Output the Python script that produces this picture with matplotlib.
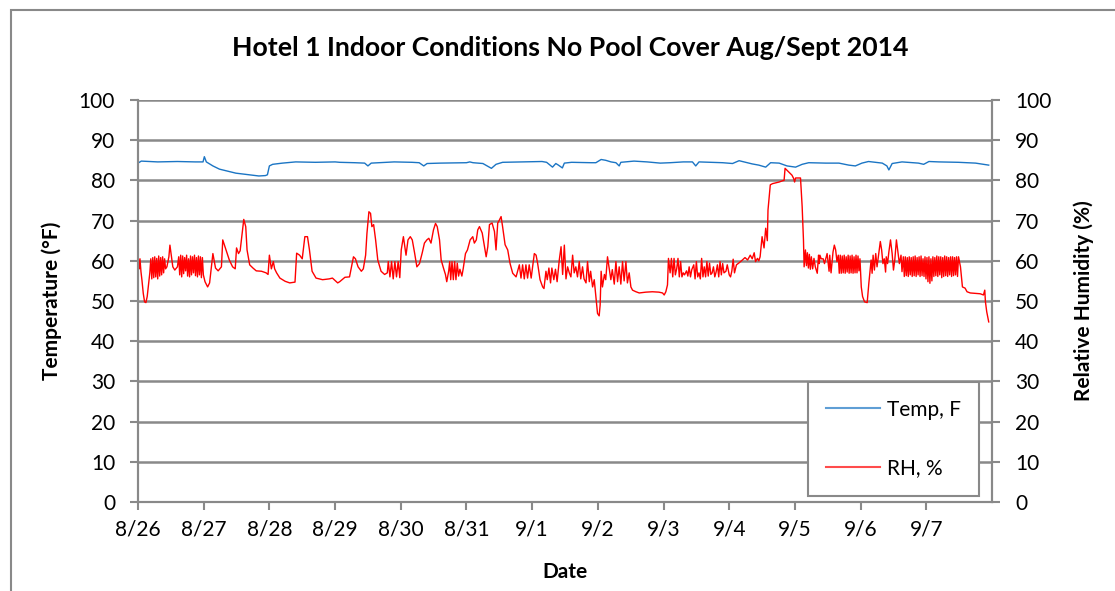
import matplotlib
matplotlib.use("Agg")
import matplotlib.pyplot as plt
from matplotlib.patches import Rectangle

plt.rcParams['font.family'] = ['Lato', 'DejaVu Sans']

# ---------------- data (days since 8/26 00:00, value) ----------------
date_labels = ["8/26", "8/27", "8/28", "8/29", "8/30", "8/31", "9/1",
               "9/2", "9/3", "9/4", "9/5", "9/6", "9/7"]
left_ticks = [0, 10, 20, 30, 40, 50, 60, 70, 80, 90, 100]
right_ticks = [0, 10, 20, 30, 40, 50, 60, 70, 80, 90, 100]

temp_readings = [
    (0.00, 84.3), (0.05, 84.8), (0.30, 84.6), (0.60, 84.7), (0.87, 84.6), (0.99, 84.6),
    (1.01, 85.9), (1.04, 84.6), (1.14, 83.6), (1.24, 82.8), (1.39, 82.2), (1.49, 81.8),
    (1.64, 81.5), (1.84, 81.1), (1.94, 81.2), (1.97, 81.4), (2.00, 83.6), (2.05, 84.0),
    (2.20, 84.3), (2.40, 84.6), (2.70, 84.5), (3.00, 84.6), (3.07, 84.5), (3.30, 84.4),
    (3.45, 84.3), (3.50, 83.6), (3.55, 84.3), (3.90, 84.6), (4.17, 84.5), (4.28, 84.4),
    (4.35, 83.6), (4.40, 84.2), (4.60, 84.3), (5.00, 84.4), (5.05, 84.6), (5.10, 84.4),
    (5.25, 84.2), (5.38, 83.0), (5.45, 84.0), (5.55, 84.5), (5.85, 84.6), (6.15, 84.7),
    (6.22, 84.5), (6.31, 83.3), (6.36, 84.2), (6.40, 83.8), (6.46, 83.1), (6.49, 84.3),
    (6.60, 84.5), (6.90, 84.4), (6.97, 84.4), (7.05, 85.2), (7.12, 85.0), (7.20, 84.6),
    (7.275, 84.4), (7.325, 83.6), (7.35, 84.5), (7.55, 84.8), (7.75, 84.6), (7.95, 84.3),
    (8.10, 84.4), (8.30, 84.6), (8.44, 84.6), (8.49, 83.6), (8.54, 84.6), (8.90, 84.4),
    (9.05, 84.2), (9.15, 84.9), (9.25, 84.5), (9.35, 84.1), (9.45, 83.8), (9.555, 83.3),
    (9.63, 84.4), (9.76, 84.3), (9.88, 83.6), (10.01, 83.3), (10.11, 84.0), (10.21, 84.4),
    (10.47, 84.3), (10.67, 84.3), (10.82, 83.8), (10.92, 83.6), (11.02, 84.3), (11.12, 84.7),
    (11.33, 84.3), (11.40, 83.6), (11.43, 82.6), (11.48, 84.2), (11.63, 84.6), (11.88, 84.3),
    (11.96, 84.0), (12.04, 84.7), (12.19, 84.6), (12.49, 84.5), (12.75, 84.3), (12.95, 83.8),
]

rh_readings = [
    # 8/26
    (0.00, 61.4), (0.02, 58.0), (0.03, 60.5), (0.045, 57.3), (0.06, 55.2), (0.08, 51.9),
    (0.10, 49.8), (0.12, 49.6), (0.14, 51.1), (0.18, 57.0),
    (0.195, 60.5), (0.21, 55.5), (0.225, 60.8), (0.24, 55.8), (0.255, 61.0), (0.27, 56.0),
    (0.285, 60.6), (0.30, 55.5), (0.315, 61.2), (0.33, 56.2), (0.345, 60.8), (0.36, 56.5),
    (0.375, 61.0), (0.39, 57.0), (0.405, 60.5), (0.42, 58.0), (0.44, 58.5), (0.47, 61.0),
    (0.486, 63.9), (0.51, 61.0), (0.53, 58.5), (0.56, 57.7), (0.60, 58.5),
    (0.62, 61.0), (0.635, 56.5), (0.65, 61.4), (0.665, 56.0), (0.68, 61.2), (0.695, 56.8),
    (0.71, 60.8), (0.725, 57.5), (0.74, 61.4), (0.755, 56.2), (0.77, 60.5), (0.785, 56.0),
    (0.80, 61.2), (0.815, 56.5), (0.83, 61.0), (0.845, 57.0), (0.86, 61.4), (0.875, 56.3),
    (0.89, 60.8), (0.905, 56.0), (0.92, 61.2), (0.935, 56.5), (0.95, 61.0), (0.965, 55.8),
    (0.98, 60.8), (0.995, 56.5),
    # 8/27
    (1.02, 54.8), (1.06, 53.5), (1.09, 54.5), (1.14, 61.8), (1.18, 58.2), (1.22, 57.5),
    (1.27, 58.5), (1.29, 65.2), (1.34, 62.7), (1.39, 60.2), (1.44, 58.5), (1.48, 58.0),
    (1.50, 63.2), (1.53, 61.8), (1.555, 62.5), (1.58, 66.0), (1.61, 70.3), (1.64, 68.5),
    (1.66, 62.7), (1.70, 59.0), (1.75, 58.2), (1.80, 57.5), (1.88, 57.4), (1.95, 57.0),
    (1.98, 56.6),
    # 8/28
    (2.00, 61.4), (2.03, 58.0), (2.06, 59.8), (2.08, 58.0), (2.11, 57.0), (2.16, 55.7),
    (2.24, 54.9), (2.31, 54.5), (2.39, 54.7), (2.415, 61.9), (2.46, 61.4), (2.50, 60.5),
    (2.54, 66.0), (2.58, 66.0), (2.61, 62.7), (2.65, 57.4), (2.71, 55.7), (2.81, 55.3),
    (2.91, 55.5), (2.96, 55.7),
    # 8/29
    (3.04, 54.5), (3.07, 54.8), (3.15, 55.9), (3.22, 56.0), (3.28, 61.0), (3.31, 60.5),
    (3.35, 58.5), (3.40, 57.4), (3.43, 58.0), (3.465, 61.4), (3.485, 66.8), (3.515, 72.2),
    (3.54, 71.8), (3.56, 68.5), (3.587, 69.0), (3.617, 65.2), (3.65, 60.2), (3.70, 57.4),
    (3.754, 56.6), (3.795, 57.0), (3.81, 59.8), (3.835, 56.0), (3.86, 59.8), (3.885, 55.5),
    (3.91, 59.8), (3.935, 56.0), (3.96, 59.8), (3.985, 55.8),
    # 8/30
    (4.007, 62.7), (4.04, 66.0), (4.08, 61.4), (4.11, 65.2), (4.145, 66.0), (4.175, 65.2),
    (4.21, 62.0), (4.245, 58.5), (4.285, 59.3), (4.327, 62.0), (4.36, 64.4), (4.397, 65.2),
    (4.427, 65.6), (4.46, 64.4), (4.498, 67.7), (4.529, 69.3), (4.555, 68.5), (4.59, 65.2),
    (4.615, 60.2), (4.65, 58.2), (4.68, 56.6), (4.70, 54.8), (4.73, 57.5), (4.745, 59.8),
    (4.76, 55.3), (4.78, 59.8), (4.80, 55.3), (4.82, 59.8), (4.84, 55.3), (4.86, 59.4),
    (4.88, 56.2), (4.90, 57.9), (4.93, 56.2), (4.95, 58.0),
    # 8/31
    (4.985, 61.8), (5.015, 62.7), (5.056, 65.2), (5.096, 66.0), (5.12, 64.4), (5.15, 65.2),
    (5.172, 67.7), (5.198, 68.5), (5.24, 66.9), (5.274, 63.5), (5.30, 61.0), (5.325, 63.5),
    (5.35, 69.0), (5.39, 69.4), (5.426, 67.3), (5.45, 62.7), (5.476, 69.4), (5.50, 70.1),
    (5.527, 71.0), (5.55, 68.5), (5.588, 64.0), (5.628, 62.7), (5.664, 59.3), (5.704, 56.9),
    (5.755, 56.0), (5.805, 59.0), (5.83, 55.7), (5.855, 59.0), (5.88, 55.5), (5.905, 59.0),
    (5.93, 55.7), (5.955, 59.0), (5.985, 55.7),
    # 9/1
    (6.033, 61.8), (6.06, 61.4), (6.084, 59.3), (6.12, 55.3), (6.16, 53.5), (6.18, 53.1),
    (6.21, 57.4), (6.23, 55.3), (6.255, 58.2), (6.28, 54.5), (6.30, 58.2), (6.33, 55.3),
    (6.355, 57.9), (6.38, 54.8), (6.413, 60.2), (6.44, 63.5), (6.464, 56.6), (6.49, 63.9),
    (6.515, 55.5), (6.54, 58.5), (6.565, 57.0), (6.59, 56.0), (6.616, 61.4), (6.64, 57.0),
    (6.665, 58.5), (6.69, 56.0), (6.717, 59.8), (6.74, 55.5), (6.767, 58.5), (6.79, 55.5),
    (6.82, 54.5), (6.843, 59.8), (6.87, 54.8), (6.89, 57.4), (6.92, 53.5), (6.945, 55.3),
    (6.97, 51.1), (6.995, 46.9),
    # 9/2
    (7.02, 46.3), (7.035, 49.0), (7.05, 57.4), (7.07, 53.5), (7.10, 56.6), (7.12, 55.3),
    (7.147, 61.0), (7.17, 58.5), (7.198, 55.3), (7.22, 57.8), (7.25, 54.2), (7.275, 59.8),
    (7.30, 54.8), (7.325, 58.5), (7.35, 54.2), (7.376, 59.8), (7.40, 55.0), (7.427, 59.8),
    (7.45, 54.5), (7.477, 57.0), (7.503, 53.5), (7.528, 52.7), (7.58, 52.3), (7.63, 52.0),
    (7.73, 52.2), (7.83, 52.3), (7.93, 52.2), (7.985, 52.0),
    # 9/3
    (8.01, 51.5), (8.035, 52.3), (8.06, 54.0), (8.075, 60.6), (8.10, 57.0), (8.12, 60.6),
    (8.14, 56.0), (8.16, 60.6), (8.18, 56.5), (8.20, 58.0), (8.22, 60.6), (8.24, 56.0),
    (8.26, 59.8), (8.28, 56.0), (8.30, 57.0), (8.32, 56.5), (8.35, 57.5), (8.37, 56.2),
    (8.39, 58.5), (8.41, 56.0), (8.43, 57.8), (8.46, 59.0), (8.48, 55.5), (8.50, 59.8),
    (8.52, 56.0), (8.54, 57.0), (8.56, 55.5), (8.58, 60.6), (8.60, 56.0), (8.62, 58.5),
    (8.64, 56.0), (8.66, 59.8), (8.68, 56.2), (8.70, 59.4), (8.72, 56.6), (8.74, 57.0),
    (8.76, 58.5), (8.78, 56.0), (8.80, 57.2), (8.82, 59.0), (8.84, 56.0), (8.86, 59.8),
    (8.88, 56.5), (8.90, 59.3), (8.92, 57.0), (8.95, 57.4), (8.97, 59.0),
    # 9/4
    (9.00, 56.5), (9.02, 56.0), (9.04, 57.5), (9.06, 60.4), (9.08, 57.0), (9.11, 59.0),
    (9.15, 59.5), (9.20, 60.2), (9.24, 60.8), (9.28, 60.2), (9.32, 61.4), (9.35, 60.5),
    (9.38, 62.0), (9.40, 59.8), (9.43, 60.6), (9.45, 60.0), (9.47, 61.0), (9.50, 66.0),
    (9.53, 63.2), (9.555, 68.1), (9.58, 65.0), (9.59, 72.6), (9.625, 78.9), (9.66, 79.2),
    (9.71, 79.4), (9.76, 79.6), (9.81, 79.9), (9.835, 80.0), (9.85, 83.0), (9.88, 82.5),
    (9.93, 81.7), (9.955, 81.3), (9.98, 80.5), (9.995, 79.6),
    # 9/5
    (10.01, 80.6), (10.05, 80.6), (10.085, 80.6), (10.11, 73.5), (10.13, 65.2), (10.14, 58.5),
    (10.16, 62.7), (10.175, 58.8), (10.19, 62.0), (10.205, 58.2), (10.22, 61.6), (10.235, 57.9),
    (10.25, 61.0), (10.27, 58.0), (10.29, 60.6), (10.31, 58.5), (10.34, 56.9), (10.36, 61.4),
    (10.37, 59.3), (10.38, 61.4), (10.40, 60.5), (10.43, 60.5), (10.45, 59.3), (10.49, 61.8),
    (10.52, 57.4), (10.53, 61.4), (10.55, 57.0), (10.58, 62.2), (10.60, 63.9), (10.62, 62.7),
    (10.64, 59.8), (10.66, 61.4), (10.675, 56.9), (10.69, 61.4), (10.705, 56.9), (10.72, 61.2),
    (10.735, 57.0), (10.75, 61.4), (10.765, 56.9), (10.78, 61.0), (10.795, 57.2), (10.81, 61.4),
    (10.825, 56.9), (10.84, 61.2), (10.855, 57.0), (10.87, 61.4), (10.885, 56.9), (10.90, 61.0),
    (10.915, 57.0), (10.93, 61.4), (10.945, 57.0), (10.96, 61.2), (10.975, 57.5), (10.99, 60.5),
    # 9/6
    (11.01, 53.5), (11.03, 51.1), (11.06, 49.8), (11.10, 49.6), (11.125, 54.4), (11.14, 56.9),
    (11.16, 60.2), (11.175, 56.9), (11.19, 61.4), (11.21, 57.7), (11.23, 61.8), (11.25, 58.5),
    (11.276, 61.8), (11.30, 64.8), (11.32, 62.7), (11.34, 59.3), (11.36, 60.5), (11.38, 57.2),
    (11.39, 61.0), (11.41, 59.3), (11.43, 62.2), (11.455, 65.2), (11.48, 61.8), (11.50, 57.7),
    (11.52, 60.2), (11.545, 65.2), (11.57, 61.8), (11.59, 59.3), (11.615, 61.4), (11.63, 57.3),
    (11.65, 61.0), (11.665, 56.1), (11.68, 61.0), (11.695, 56.3), (11.71, 60.8), (11.725, 56.1),
    (11.74, 61.0), (11.755, 56.5), (11.77, 60.8), (11.785, 56.1), (11.80, 61.0), (11.815, 56.3),
    (11.83, 61.2), (11.845, 56.1), (11.86, 60.8), (11.875, 56.5), (11.89, 61.0), (11.905, 56.1),
    (11.92, 61.2), (11.935, 56.3), (11.95, 60.5), (11.965, 56.1), (11.98, 61.0), (11.995, 55.5),
    # 9/7
    (12.01, 60.8), (12.025, 54.8), (12.04, 61.0), (12.055, 54.4), (12.07, 60.5), (12.085, 55.0),
    (12.10, 61.0), (12.115, 56.1), (12.13, 60.8), (12.145, 56.3), (12.16, 61.2), (12.175, 56.1),
    (12.19, 61.0), (12.205, 56.5), (12.22, 61.0), (12.235, 55.8), (12.25, 60.8), (12.265, 56.1),
    (12.28, 61.2), (12.295, 56.3), (12.31, 61.0), (12.325, 56.1), (12.34, 60.8), (12.355, 56.5),
    (12.37, 61.0), (12.385, 56.1), (12.40, 61.0), (12.415, 56.3), (12.43, 60.8), (12.445, 56.5),
    (12.46, 61.0), (12.475, 56.1), (12.49, 61.0), (12.52, 58.5), (12.55, 53.5), (12.59, 53.2),
    (12.62, 52.3), (12.67, 52.0), (12.745, 51.9), (12.82, 51.8), (12.87, 51.5), (12.89, 52.7),
    (12.90, 49.8), (12.92, 47.3), (12.95, 44.8),
]

temp_day = [d for d, _ in temp_readings]
temp_val = [v for _, v in temp_readings]
rh_day = [d for d, _ in rh_readings]
rh_val = [v for _, v in rh_readings]

# ---------------- styling ----------------
GRID = "#898989"
TEMP_C = "#1B75C4"
RH_C = "#FF0000"
FS = 15

fig = plt.figure(figsize=(11.15, 5.91), dpi=100)
ax = fig.add_axes([138 / 1115, 1 - 502 / 591, (992 - 138) / 1115, (502 - 100) / 591])
ax2 = ax.twinx()

ln1, = ax.plot(temp_day, temp_val, color=TEMP_C, lw=1.0, label="Temp, F")
ln2, = ax2.plot(rh_day, rh_val, color=RH_C, lw=1.0, label="RH, %")

for a in (ax, ax2):
    a.set_ylim(0, 100)
    a.set_xlim(0, 13)
    for s in a.spines.values():
        s.set_color(GRID)
        s.set_linewidth(1.5)
    a.spines['top'].set_visible(False)
    a.tick_params(axis='both', colors=GRID, labelcolor='black', labelsize=FS,
                  length=5.5, width=1.5, direction='out')
    a.tick_params(axis='y', pad=11)

ax.set_yticks(left_ticks)
ax2.set_yticks(right_ticks)
ax.set_xticks(list(range(len(date_labels))))
ax.set_xticklabels(date_labels)
ax.tick_params(axis='x', pad=7)
ax.yaxis.grid(True, color=GRID, lw=1.8)
ax.set_axisbelow(True)

ax.set_ylabel("Temperature (°F)", fontsize=FS, fontweight='bold', labelpad=12)
ax2.set_ylabel("Relative Humidity (%)", fontsize=FS, fontweight='bold', labelpad=16)
ax.set_xlabel("Date", fontsize=FS, fontweight='bold', labelpad=16)
fig.text(570 / 1115, 1 - 48 / 591, "Hotel 1 Indoor Conditions No Pool Cover Aug/Sept 2014",
         ha='center', va='center', fontsize=19.2, fontweight='bold')

leg = ax2.legend(handles=[ln1, ln2], loc='lower left',
                 bbox_to_anchor=((808 - 138) / 854, (502 - 496) / 402),
                 borderaxespad=0, fontsize=FS, labelspacing=1.85, handlelength=2.6,
                 handletextpad=0.35, borderpad=0.85, fancybox=False, framealpha=1,
                 edgecolor=GRID)
leg.get_frame().set_linewidth(1.5)
for h in leg.legend_handles:
    h.set_linewidth(1.5)
    h.set_alpha(0.7)

fig.patches.append(Rectangle((11 / 1115, -0.5), 1.2, 1.5 - 10 / 591, transform=fig.transFigure,
                             fill=False, edgecolor=GRID, lw=1.5, clip_on=False))

fig.savefig("out.png", dpi=100)
